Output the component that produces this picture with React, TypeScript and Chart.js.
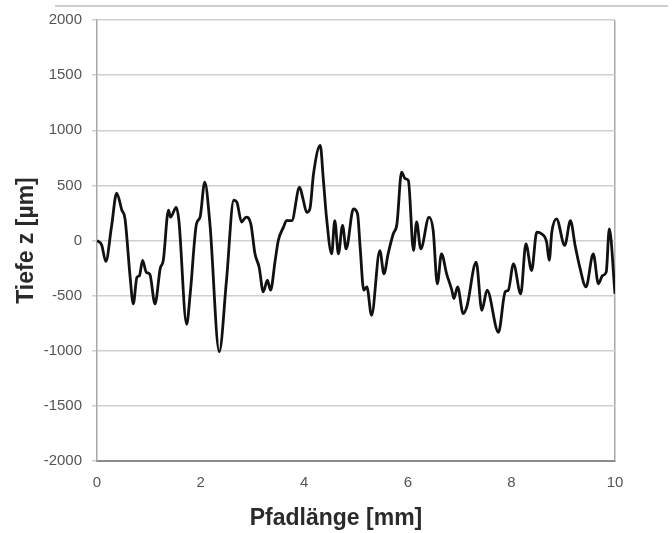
import React, { useEffect, useRef } from "react";
import { Chart, registerables } from "chart.js";

Chart.register(...registerables);

const pathLength: number[] = [
  0.0, 0.09, 0.17, 0.28, 0.38, 0.48, 0.54, 0.64, 0.7, 0.77, 0.82, 0.88, 0.95, 1.02, 1.12, 1.22, 1.28, 1.38,
  1.42, 1.53, 1.58, 1.73, 1.8, 1.92, 1.99, 2.08, 2.18, 2.36, 2.5, 2.64, 2.7, 2.79, 2.88, 2.97, 3.05, 3.13,
  3.21, 3.29, 3.35, 3.44, 3.5, 3.6, 3.66, 3.76, 3.91, 3.97, 4.05, 4.11, 4.18, 4.31, 4.37, 4.43, 4.53, 4.59,
  4.66, 4.74, 4.81, 4.95, 5.03, 5.08, 5.15, 5.21, 5.3, 5.46, 5.54, 5.62, 5.72, 5.79, 5.88, 5.95, 6.01, 6.11,
  6.17, 6.25, 6.41, 6.49, 6.57, 6.65, 6.75, 6.85, 6.89, 6.96, 7.07, 7.14, 7.32, 7.43, 7.53, 7.75, 7.88, 7.94,
  8.04, 8.18, 8.28, 8.39, 8.49, 8.58, 8.68, 8.73, 8.78, 8.87, 9.03, 9.14, 9.23, 9.32, 9.44, 9.58, 9.68, 9.76,
  9.83, 9.89, 10.0,
];

const depth: number[] = [
  0, -40, -190, 125, 430, 275, 200, -335, -575, -335, -318, -180, -287, -307, -575, -255, -180, 275,
  212, 300, 185, -760, -480, 150, 212, 530, 150, -1010, -360, 365, 348, 168, 212, 150, -121, -242,
  -466, -360, -451, -180, 0, 121, 181, 181, 483, 392, 255, 286, 605, 862, 550, 212, -121, 181,
  -121, 136, -76, 286, 242, -61, -451, -421, -679, -91, -302, -121, 61, 150, 620, 560, 545, -91,
  168, -76, 212, 91, -393, -121, -302, -451, -527, -421, -663, -600, -197, -633, -451, -833, -466, -451,
  -212, -484, -30, -272, 76, 61, -15, -180, 76, 197, -45, 181, -45, -242, -421, -121, -393, -318,
  -287, 106, -484,
];

const xTickStep = 2;
const yTickStep = 500;
const xTitle = "Pfadlänge [mm]";
const yTitle = "Tiefe z [µm]";

const FONT = "'Liberation Sans', Arial, sans-serif";

const framePlugin = {
  id: "frameLine",
  beforeDraw(chart: any) {
    const ctx = chart.ctx;
    ctx.save();
    ctx.fillStyle = "#ffffff";
    ctx.fillRect(0, 0, chart.width, chart.height);
    ctx.strokeStyle = "#cdcdcd";
    ctx.lineWidth = 2;
    ctx.beginPath();
    ctx.moveTo(55, 6);
    ctx.lineTo(668, 6);
    ctx.stroke();
    ctx.restore();
  },
};

export default function App() {
  const ref = useRef<HTMLCanvasElement | null>(null);

  useEffect(() => {
    if (!ref.current) return;
    const chart = new Chart(ref.current, {
      type: "line",
      data: {
        datasets: [
          {
            data: pathLength.map((x, i) => ({ x, y: depth[i] })),
            borderColor: "#111111",
            borderWidth: 2.8,
            pointRadius: 0,
            fill: false,
            cubicInterpolationMode: "monotone",
            yAxisID: "y",
          },
        ],
      },
      options: {
        responsive: false,
        animation: false,
        devicePixelRatio: 1,
        layout: { padding: { top: 20, right: 0, left: 0, bottom: 0 } },
        plugins: {
          legend: { display: false },
          tooltip: { enabled: false },
          title: {
            display: true,
            position: "bottom",
            text: xTitle,
            color: "#2a2a2a",
            font: { family: FONT, size: 23, weight: "bold" },
            padding: { top: 0, bottom: 1 },
          },
        },
        scales: {
          x: {
            type: "linear",
            min: 0,
            max: 10,
            ticks: {
              stepSize: xTickStep,
              color: "#555555",
              font: { family: FONT, size: 15 },
              padding: 13,
              callback: (v: any) => String(v),
            },
            grid: {
              color: (c: any) => (c.tick && c.tick.value === 10 ? "#a8a8a8" : "rgba(0,0,0,0)"),
              lineWidth: 1.5,
              drawTicks: false,
            },
            border: { color: "#8c8c8c", width: 2 },
            afterFit: (s: any) => {
              s.height = 72 - 28.6;
            },
          },
          y: {
            min: -2000,
            max: 2000,
            ticks: {
              stepSize: yTickStep,
              color: "#555555",
              font: { family: FONT, size: 15 },
              padding: 10,
              callback: (v: any) => String(v),
            },
            grid: {
              color: "#d0d0d0",
              lineWidth: 1.5,
              drawTicks: true,
              tickLength: 5,
            },
            border: { color: "#a8a8a8", width: 1.5 },
            title: {
              display: true,
              text: yTitle,
              color: "#2a2a2a",
              font: { family: FONT, size: 23, weight: "bold" },
              padding: { top: 13, bottom: 0 },
            },
            afterFit: (s: any) => {
              s.width = 97;
            },
          },
          yRight: {
            position: "right",
            display: true,
            min: 0,
            max: 1,
            ticks: { display: false },
            grid: { display: false, drawTicks: false },
            border: { display: false },
            afterFit: (s: any) => {
              s.width = 57;
            },
          },
        },
      },
      plugins: [framePlugin],
    } as any);
    return () => chart.destroy();
  }, []);

  return (
    <div style={{ position: "absolute", left: 0, top: 0, width: 672, height: 533 }}>
      <canvas ref={ref} width={672} height={533} style={{ display: "block" }} />
    </div>
  );
}
